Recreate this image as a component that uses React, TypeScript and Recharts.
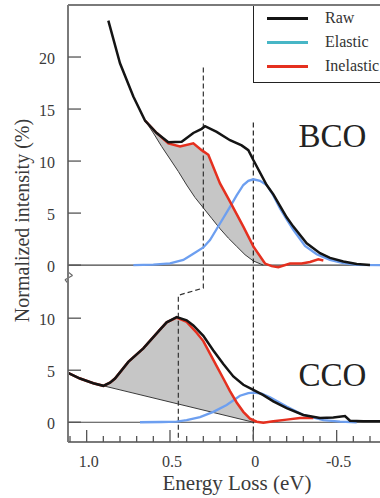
import React from 'react';
import { ComposedChart, Line, Area, XAxis, YAxis, ReferenceLine, ReferenceDot, Legend } from 'recharts';

type Pt = [number, number];
type Band = [number, number, number];

// ---- panel geometry (unified y: bottom panel value as is, top panel value + TOP_OFFSET)
const TOP_OFFSET = 15.1;
const X_DOMAIN: [number, number] = [-0.76, 1.112];
const Y_DOMAIN: [number, number] = [-1.9, 40.1];

// ---- tick values / labels
const X_TICKS = [1.1, 1.0, 0.9, 0.8, 0.7, 0.6, 0.5, 0.4, 0.3, 0.2, 0.1, 0, -0.1, -0.2, -0.3, -0.4, -0.5, -0.6, -0.7];
const X_MAJOR = [1.0, 0.5, 0, -0.5];
const X_MAJOR_LABELS = ['1.0', '0.5', '0', '-0.5'];
const Y_TICKS_TOP = [0, 5, 10, 15, 20];
const Y_TICKS_BOTTOM = [0, 5, 10];

// ---- BCO (top panel)
const RAW_TOP: Pt[] = [[0.87, 23.5], [0.8, 19.4], [0.72, 16.2], [0.65, 13.9], [0.58, 12.7], [0.51, 11.8], [0.43, 11.85], [0.36, 12.7], [0.31, 13.1], [0.29, 13.35], [0.22, 12.8], [0.14, 12.0], [0.07, 11.5], [0.03, 11.05], [0, 10.1], [-0.08, 7.7], [-0.12, 6.8], [-0.16, 5.7], [-0.2, 4.6], [-0.24, 3.7], [-0.32, 2.1], [-0.4, 1.15], [-0.46, 0.7], [-0.54, 0.35], [-0.62, 0.1], [-0.7, 0]];
const ELASTIC_TOP: Pt[] = [[0.72, 0], [0.6, 0.05], [0.5, 0.16], [0.42, 0.5], [0.36, 1.1], [0.3, 1.7], [0.26, 2.4], [0.2, 4.0], [0.14, 5.6], [0.1, 6.7], [0.06, 7.7], [0.03, 8.1], [0, 8.25], [-0.04, 8.1], [-0.08, 7.7], [-0.12, 6.7], [-0.16, 5.45], [-0.2, 4.4], [-0.24, 3.4], [-0.31, 1.85], [-0.38, 1.05], [-0.46, 0.5], [-0.54, 0.2], [-0.62, 0.02], [-0.76, 0]];
const INEL_TOP: Pt[] = [[0.65, 13.9], [0.58, 12.7], [0.51, 11.7], [0.44, 11.4], [0.36, 11.7], [0.31, 11.05], [0.27, 10.6], [0.2, 7.85], [0.14, 6.1], [0.06, 3.7], [0, 1.8], [-0.07, 0.15], [-0.11, -0.1], [-0.15, -0.2], [-0.22, 0.15], [-0.29, 0.15], [-0.34, 0.3], [-0.39, 0.55], [-0.42, 0.45]];
const BG_TOP: Pt[] = [[0.65, 13.9], [0.6, 12.7], [0.55, 11.4], [0.5, 10.2], [0.45, 9.0], [0.4, 7.7], [0.35, 6.5], [0.3, 5.5], [0.25, 4.5], [0.2, 3.5], [0.15, 2.6], [0.1, 1.8], [0.05, 1.0], [0, 0.4], [-0.06, 0]];
const FILL_TOP: Band[] = [[0.65, 13.9, 13.9], [0.6, 12.7, 12.9], [0.55, 11.4, 12.2], [0.5, 10.2, 11.6], [0.45, 9.0, 11.4], [0.4, 7.7, 11.55], [0.36, 6.75, 11.7], [0.31, 5.7, 11.05], [0.27, 4.9, 10.6], [0.2, 3.5, 7.85], [0.14, 2.45, 6.1], [0.1, 1.8, 4.9], [0.06, 1.15, 3.7], [0, 0.4, 1.8], [-0.06, 0, 0.35]];

// ---- CCO (bottom panel)
const RAW_BOTTOM: Pt[] = [[1.112, 4.75], [1.04, 4.2], [0.96, 3.75], [0.9, 3.5], [0.86, 3.8], [0.83, 4.2], [0.75, 5.8], [0.66, 7.1], [0.56, 8.9], [0.52, 9.6], [0.46, 10.1], [0.4, 9.8], [0.36, 9.3], [0.3, 8.3], [0.24, 6.9], [0.18, 5.6], [0.12, 4.4], [0.06, 3.6], [0, 3.1], [-0.06, 2.6], [-0.12, 2.0], [-0.2, 1.35], [-0.3, 0.7], [-0.4, 0.4], [-0.48, 0.45], [-0.55, 0.6], [-0.58, 0.15], [-0.66, 0.1], [-0.76, 0.1]];
const ELASTIC_BOTTOM: Pt[] = [[0.68, 0], [0.55, 0.02], [0.46, 0.05], [0.4, 0.2], [0.32, 0.5], [0.24, 1.0], [0.16, 1.65], [0.08, 2.55], [0.03, 2.8], [0, 2.85], [-0.05, 2.75], [-0.1, 2.4], [-0.2, 1.5], [-0.3, 0.7], [-0.42, 0.2], [-0.52, 0.05], [-0.62, 0]];
const INEL_BOTTOM: Pt[] = [[1.112, 4.75], [1.04, 4.2], [0.96, 3.75], [0.9, 3.5], [0.86, 3.8], [0.83, 4.2], [0.75, 5.8], [0.66, 7.1], [0.56, 8.9], [0.52, 9.6], [0.46, 10.05], [0.4, 9.65], [0.34, 8.6], [0.3, 7.8], [0.26, 6.6], [0.22, 5.4], [0.18, 4.2], [0.14, 3.0], [0.1, 1.9], [0.06, 1.0], [0.02, 0.35], [-0.02, 0.05], [-0.06, -0.05], [-0.12, 0.1], [-0.2, 0.25], [-0.28, 0.4], [-0.36, 0.4]];
const BG_BOTTOM: Pt[] = [[0.9, 3.5], [0, 0]];
const FILL_BOTTOM: Band[] = [[0.9, 3.5, 3.5], [0.86, 3.34, 3.8], [0.83, 3.23, 4.2], [0.75, 2.92, 5.8], [0.66, 2.57, 7.1], [0.56, 2.18, 8.9], [0.52, 2.02, 9.6], [0.46, 1.79, 10.05], [0.4, 1.56, 9.65], [0.34, 1.32, 8.6], [0.3, 1.17, 7.8], [0.26, 1.01, 6.6], [0.22, 0.86, 5.4], [0.18, 0.7, 4.2], [0.14, 0.54, 3.0], [0.1, 0.39, 1.9], [0.06, 0.23, 1.0], [0.02, 0.08, 0.35], [0, 0, 0.15]];

// ---- dashed guide lines (unified y units)
const DASH_LEFT: Pt[] = [[0.3, 34.1], [0.3, 12.9], [0.45, 12.2], [0.45, -1.9]];
const DASH_ZERO: Pt[] = [[0, 28.8], [0, -1.9]];

// ---- panel labels [E, value]
const LABEL_BCO: Pt = [-0.475, 12.47];
const LABEL_CCO: Pt = [-0.475, 4.6];

const LEGEND_ITEMS = [
  { name: 'Raw', color: '#141414' },
  { name: 'Elastic', color: '#47b6c6' },
  { name: 'Inelastic', color: '#e5301f' },
];

const C_RAW = '#141414';
const C_EL = '#6d9ff0';
const C_IN = '#e5301f';
const C_FILL = '#c6c6c6';
const C_AXIS = '#7a7a7a';
const FONT = '"Liberation Serif", "Times New Roman", serif';

const rows = (pts: Pt[], off: number) => pts.map(([E, v]) => ({ E, v: v + off }));
const bands = (pts: Band[], off: number) => pts.map(([E, lo, hi]) => ({ E, r: [lo + off, hi + off] }));

const Y_TICKS = [...Y_TICKS_BOTTOM, ...Y_TICKS_TOP.map((t) => t + TOP_OFFSET)];
const yLabel = (u: number) => (u > 13 ? Math.round(u - TOP_OFFSET) : Math.round(u));

const XTick = (props: any) => {
  const { x, y, payload } = props;
  const idx = X_MAJOR.findIndex((m) => Math.abs(m - payload.value) < 1e-6);
  const len = idx >= 0 ? 12 : 6;
  return (
    <g>
      <line x1={x} y1={y} x2={x} y2={y - len} stroke="#555" strokeWidth={1.3} />
      {idx >= 0 && (
        <text x={x + 2} y={y + 25} textAnchor="middle" fontSize={16} fontFamily={FONT} fill="#3a3a3a">
          {X_MAJOR_LABELS[idx]}
        </text>
      )}
    </g>
  );
};

const YTick = (props: any) => {
  const { x, y, payload } = props;
  return (
    <g>
      <line x1={x} y1={y} x2={x + 13} y2={y} stroke="#555" strokeWidth={1.3} />
      <text x={x - 13} y={y + 7} textAnchor="end" fontSize={16} fontFamily={FONT} fill="#3a3a3a">
        {yLabel(payload.value)}
      </text>
    </g>
  );
};

const XTitle = (props: any) => {
  const vb = props.viewBox || { x: 68, y: 442, width: 312, height: 56 };
  return (
    <text x={vb.x + vb.width / 2 + 13} y={vb.y + 48} textAnchor="middle" fontSize={21} fontFamily={FONT} fill="#3a3a3a">
      Energy Loss (eV)
    </text>
  );
};

const YTitle = (props: any) => {
  const vb = props.viewBox || { x: 8, y: 5, width: 60, height: 437 };
  const cx = vb.x + 21;
  const cy = vb.y + vb.height / 2 - 3;
  return (
    <text x={cx} y={cy} transform={`rotate(-90 ${cx} ${cy})`} textAnchor="middle" fontSize={20} fontFamily={FONT} fill="#3a3a3a">
      Normalized intensity (%)
    </text>
  );
};

const LegendBox = () => (
  <div
    style={{
      width: 140,
      height: 77,
      boxSizing: 'border-box',
      borderLeft: '1px solid #222',
      borderBottom: '1px solid #222',
      background: '#fff',
      overflow: 'hidden',
    }}
  >
    {LEGEND_ITEMS.map((it) => (
      <div key={it.name} style={{ height: 24, display: 'flex', alignItems: 'center', whiteSpace: 'nowrap' }}>
        <div style={{ marginLeft: 13, width: 41, height: 3, background: it.color, flex: 'none' }} />
        <span style={{ marginLeft: 17, fontFamily: FONT, fontSize: 16, color: '#333', lineHeight: '24px' }}>{it.name}</span>
      </div>
    ))}
  </div>
);

const lineCommon = { type: 'linear' as const, dot: false, activeDot: false, isAnimationActive: false, legendType: 'none' as const };

export default function App() {
  return (
    <div style={{ position: 'absolute', left: 0, top: 0, width: 380, height: 498, background: '#fff', overflow: 'hidden' }}>
      <ComposedChart width={380} height={498} margin={{ top: 5, right: 0, bottom: 0, left: 8 }}>
        <XAxis
          type="number"
          dataKey="E"
          domain={X_DOMAIN}
          reversed
          allowDataOverflow
          ticks={X_TICKS}
          interval={0}
          tickSize={0}
          tickMargin={0}
          tickLine={false}
          height={56}
          axisLine={{ stroke: C_AXIS, strokeWidth: 2 }}
          tick={<XTick />}
          label={<XTitle />}
        />
        <YAxis
          type="number"
          domain={Y_DOMAIN}
          allowDataOverflow
          ticks={Y_TICKS}
          interval={0}
          tickSize={0}
          tickMargin={0}
          tickLine={false}
          width={60}
          axisLine={{ stroke: C_AXIS, strokeWidth: 2 }}
          tick={<YTick />}
          label={<YTitle />}
        />
        <Legend
          layout="horizontal"
          verticalAlign="middle"
          align="center"
          content={<LegendBox />}
          wrapperStyle={{ left: 253, top: 6, width: 140, height: 77 }}
        />

        {/* frame top and zero lines */}
        <ReferenceLine y={Y_DOMAIN[1]} stroke={C_AXIS} strokeWidth={2} />
        <ReferenceLine y={TOP_OFFSET} stroke="#444" strokeWidth={1.2} />
        <ReferenceLine y={0} stroke="#444" strokeWidth={1.2} />

        {/* gray inelastic areas */}
        <Area data={bands(FILL_TOP, TOP_OFFSET)} dataKey="r" type="linear" stroke="none" fill={C_FILL} fillOpacity={1} isAnimationActive={false} legendType="none" />
        <Area data={bands(FILL_BOTTOM, 0)} dataKey="r" type="linear" stroke="none" fill={C_FILL} fillOpacity={1} isAnimationActive={false} legendType="none" />

        {/* background curves */}
        <Line {...lineCommon} data={rows(BG_TOP, TOP_OFFSET)} dataKey="v" stroke="#3a3a3a" strokeWidth={1} />
        <Line {...lineCommon} data={rows(BG_BOTTOM, 0)} dataKey="v" stroke="#3a3a3a" strokeWidth={1} />

        {/* dashed guides */}
        <Line {...lineCommon} data={rows(DASH_LEFT, 0)} dataKey="v" stroke="#333" strokeWidth={1.2} strokeDasharray="5 3" />
        <Line {...lineCommon} data={rows(DASH_ZERO, 0)} dataKey="v" stroke="#222" strokeWidth={1.2} strokeDasharray="5 3" />

        {/* elastic */}
        <Line {...lineCommon} data={rows(ELASTIC_TOP, TOP_OFFSET)} dataKey="v" stroke={C_EL} strokeWidth={2.3} />
        <Line {...lineCommon} data={rows(ELASTIC_BOTTOM, 0)} dataKey="v" stroke={C_EL} strokeWidth={2.3} />

        {/* inelastic */}
        <Line {...lineCommon} data={rows(INEL_TOP, TOP_OFFSET)} dataKey="v" stroke={C_IN} strokeWidth={2.5} />
        <Line {...lineCommon} data={rows(INEL_BOTTOM, 0)} dataKey="v" stroke={C_IN} strokeWidth={2.5} />

        {/* raw */}
        <Line {...lineCommon} data={rows(RAW_TOP, TOP_OFFSET)} dataKey="v" stroke={C_RAW} strokeWidth={2.5} />
        <Line {...lineCommon} data={rows(RAW_BOTTOM, 0)} dataKey="v" stroke={C_RAW} strokeWidth={2.5} />

        {/* axis break marker */}
        <ReferenceLine segment={[{ x: 1.112, y: 14.4 }, { x: 1.112, y: 13.4 }]} stroke="#fff" strokeWidth={3} ifOverflow="visible" />
        <ReferenceLine segment={[{ x: 1.112, y: 14.45 }, { x: 1.085, y: 14.1 }]} stroke="#666" strokeWidth={1.2} ifOverflow="visible" />
        <ReferenceLine segment={[{ x: 1.085, y: 14.1 }, { x: 1.13, y: 13.7 }]} stroke="#666" strokeWidth={1.2} ifOverflow="visible" />
        <ReferenceLine segment={[{ x: 1.13, y: 13.7 }, { x: 1.112, y: 13.35 }]} stroke="#666" strokeWidth={1.2} ifOverflow="visible" />

        {/* panel labels */}
        <ReferenceDot
          x={LABEL_BCO[0]}
          y={LABEL_BCO[1] + TOP_OFFSET}
          r={0}
          fill="none"
          stroke="none"
          label={{ value: 'BCO', position: 'center', fontSize: 33, fill: '#222', fontFamily: FONT }}
        />
        <ReferenceDot
          x={LABEL_CCO[0]}
          y={LABEL_CCO[1]}
          r={0}
          fill="none"
          stroke="none"
          label={{ value: 'CCO', position: 'center', fontSize: 33, fill: '#222', fontFamily: FONT }}
        />
      </ComposedChart>
    </div>
  );
}
